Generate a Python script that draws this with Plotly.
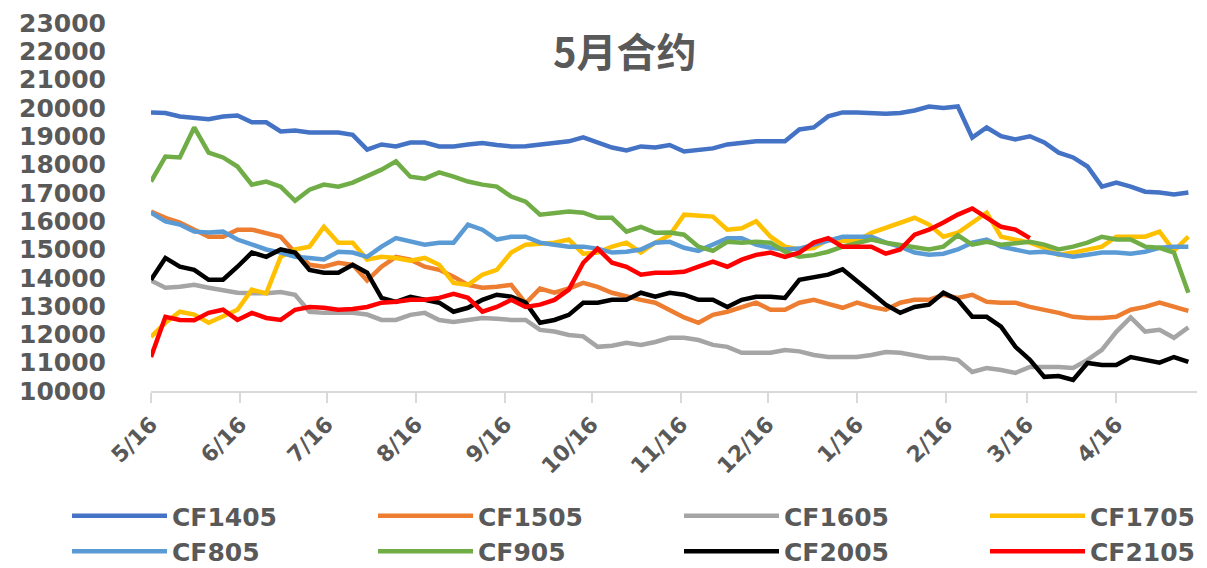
import pandas as pd
import plotly.graph_objects as go

# sample dates (every 5 days) on the month/day axis
dates = pd.date_range("2018-05-16", periods=73, freq="5D")

tick_dates = ["2018-05-16", "2018-06-16", "2018-07-16", "2018-08-16", "2018-09-16",
              "2018-10-16", "2018-11-16", "2018-12-16", "2019-01-16", "2019-02-16",
              "2019-03-16", "2019-04-16"]
tick_labels = ["5/16", "6/16", "7/16", "8/16", "9/16", "10/16", "11/16", "12/16",
               "1/16", "2/16", "3/16", "4/16"]

CF1405 = [19840, 19820, 19700, 19630, 19600, 19700, 19730, 19490, 19490, 19170,
          19200, 19130, 19130, 19130, 19050, 18530, 18710, 18640, 18780, 18780,
          18640, 18640, 18710, 18760, 18690, 18640, 18650, 18700, 18740, 18820,
          18960, 18780, 18600, 18500, 18640, 18600, 18690, 18460, 18530, 18570,
          18710, 18780, 18820, 18820, 18820, 19240, 19310, 19700, 19840, 19840,
          19820, 19790, 19820, 19910, 20050, 20000, 20050, 18950, 19310, 19000,
          18890, 19000, 18780, 18420, 18250, 17930, 17220, 17360, 17220, 17040,
          17010, 16940, 17010]
CF1505 = [16340, 16120, 15950, 15700, 15450, 15450, 15700, 15700, 15590, 15450,
          14890, 14460, 14390, 14530, 14460, 13900, 14390, 14740, 14640, 14390,
          14280, 14040, 13750, 13650, 13680, 13750, 13100, 13620, 13470, 13620,
          13820, 13680, 13470, 13330, 13220, 13120, 12870, 12600, 12410, 12690,
          12800, 12970, 13120, 12870, 12870, 13120, 13220, 13080, 12940, 13120,
          12970, 12870, 13120, 13220, 13220, 13400, 13290, 13400, 13150, 13120,
          13120, 12970, 12870, 12760, 12620, 12580, 12580, 12620, 12870, 12970,
          13120, 12970, 12830]
CF1605 = [13900, 13650, 13680, 13750, 13650, 13580, 13470, 13450, 13450, 13500,
          13400, 12800, 12760, 12760, 12760, 12700, 12510, 12510, 12690, 12760,
          12510, 12440, 12510, 12580, 12550, 12510, 12510, 12160, 12100, 11980,
          11930, 11560, 11600, 11700, 11630, 11730, 11880, 11880, 11800, 11630,
          11560, 11350, 11350, 11350, 11450, 11400, 11270, 11200, 11200, 11200,
          11270, 11380, 11350, 11270, 11170, 11170, 11100, 10670, 10810, 10740,
          10640, 10850, 10850, 10850, 10810, 11100, 11450, 12090, 12600, 12100,
          12160, 11880, 12250]
CF1705 = [11910, 12410, 12800, 12700, 12410, 12620, 12870, 13580, 13450, 14740,
          15000, 15100, 15800, 15240, 15240, 14640, 14740, 14700, 14600, 14700,
          14460, 13820, 13750, 14110, 14280, 14890, 15170, 15200, 15240, 15350,
          14850, 14890, 15100, 15240, 14890, 15240, 15500, 16230, 16200, 16160,
          15700, 15750, 16000, 15450, 15100, 15000, 15050, 15350, 15300, 15300,
          15590, 15770, 15950, 16120, 15880, 15450, 15590, 15950, 16300, 15450,
          15350, 15240, 15060, 14810, 14890, 15000, 15100, 15450, 15450, 15450,
          15630, 14950, 15450]
CF805 = [16300, 15990, 15880, 15630, 15600, 15630, 15350, 15170, 15000, 14890,
         14740, 14700, 14650, 14920, 14890, 14740, 15100, 15400, 15270, 15170,
         15240, 15240, 15880, 15700, 15350, 15450, 15450, 15240, 15170, 15100,
         15100, 15030, 14890, 14920, 15000, 15240, 15270, 15060, 14950, 15170,
         15400, 15400, 15170, 15060, 15000, 15030, 15170, 15350, 15450, 15450,
         15450, 15240, 15100, 14890, 14810, 14850, 15000, 15240, 15350, 15100,
         15000, 14890, 14920, 14810, 14740, 14810, 14890, 14890, 14850, 14920,
         15060, 15100, 15100]
CF905 = [17400, 18280, 18250, 19310, 18420, 18250, 17930, 17290, 17400, 17220,
         16720, 17110, 17290, 17220, 17360, 17570, 17820, 18110, 17570, 17500,
         17720, 17570, 17400, 17290, 17220, 16870, 16690, 16230, 16300, 16340,
         16300, 16120, 16120, 15630, 15800, 15590, 15600, 15520, 15100, 14950,
         15270, 15240, 15270, 15240, 14920, 14740, 14800, 14920, 15100, 15240,
         15350, 15240, 15170, 15100, 15000, 15100, 15500, 15170, 15270, 15170,
         15240, 15270, 15170, 15000, 15100, 15240, 15450, 15350, 15350, 15100,
         15060, 14890, 13470]
CF2005 = [13930, 14700, 14390, 14280, 13930, 13930, 14390, 14890, 14740, 15000,
          14890, 14280, 14180, 14180, 14460, 14180, 13290, 13150, 13330, 13220,
          13120, 12800, 12940, 13220, 13400, 13330, 13120, 12410, 12510, 12690,
          13120, 13120, 13220, 13220, 13470, 13330, 13470, 13400, 13220, 13220,
          12970, 13220, 13330, 13330, 13290, 13930, 14000, 14110, 14300, 13860,
          13470, 13050, 12760, 12970, 13050, 13470, 13220, 12620, 12620, 12270,
          11560, 11100, 10500, 10530, 10390, 10990, 10920, 10920, 11200, 11100,
          11000, 11200, 11030]
CF2105 = [11200, 12620, 12510, 12500, 12760, 12870, 12510, 12760, 12580, 12510,
          12870, 12970, 12940, 12870, 12900, 12970, 13120, 13150, 13220, 13220,
          13290, 13430, 13290, 12800, 12970, 13220, 12970, 13050, 13220, 13580,
          14530, 15030, 14530, 14390, 14110, 14180, 14180, 14210, 14390, 14570,
          14390, 14640, 14810, 14890, 14740, 14890, 15240, 15400, 15100, 15100,
          15100, 14850, 15000, 15520, 15700, 15950, 16230, 16450, 16120, 15800,
          15700, 15400]

# (name, values, colour, legend column)
series = [
    ("CF1405", CF1405, "#4472C4", "legend"),
    ("CF1505", CF1505, "#ED7D31", "legend2"),
    ("CF1605", CF1605, "#A5A5A5", "legend3"),
    ("CF1705", CF1705, "#FFC000", "legend4"),
    ("CF805", CF805, "#5B9BD5", "legend"),
    ("CF905", CF905, "#70AD47", "legend2"),
    ("CF2005", CF2005, "#000000", "legend3"),
    ("CF2105", CF2105, "#FF0000", "legend4"),
]

fig = go.Figure()
for name, vals, color, lg in series:
    fig.add_trace(go.Scatter(
        x=dates[:len(vals)], y=vals, name=name, mode="lines",
        line=dict(color=color, width=4.5), legend=lg,
    ))

gray = "#595959"
# the page body adds an 8px offset; the figure is laid out to compensate
W, H = 1199, 560
ML, MR, MT = 143, 10, 15
plot_w = W - ML - MR          # 1046
plot_top = MT
plot_bot = 383
MB = H - plot_bot
plot_h = plot_bot - plot_top  # 368


def legend_cfg(fig_x):
    return dict(
        orientation="v", x=(fig_x - ML) / plot_w, xanchor="left",
        y=-(485 - plot_bot) / plot_h, yanchor="top",
        itemwidth=95, tracegroupgap=0,
        font=dict(family="DejaVu Sans", size=25, color=gray, weight="bold"),
        bgcolor="rgba(0,0,0,0)",
    )


fig.update_layout(
    width=W, height=H,
    margin=dict(l=ML, r=MR, t=MT, b=MB, autoexpand=False),
    paper_bgcolor="white", plot_bgcolor="white",
    showlegend=True,
    font=dict(family="DejaVu Sans", color=gray),
    legend=legend_cfg(59),
    legend2=legend_cfg(365),
    legend3=legend_cfg(671),
    legend4=legend_cfg(977),
    annotations=[dict(
        text="5月合约", xref="paper", yref="paper",
        x=(617 - ML) / plot_w, y=(plot_bot - 42) / plot_h,
        xanchor="center", yanchor="middle", showarrow=False,
        font=dict(family="Noto Sans CJK SC", size=40, color=gray, weight="bold"),
    )],
)
fig.update_xaxes(
    type="date", range=["2018-05-16", "2019-05-14"],
    tickvals=tick_dates, ticktext=tick_labels, tickangle=-45,
    showgrid=False, showline=True, linecolor="#D9D9D9", linewidth=1.5,
    ticks="outside", ticklen=10, tickcolor="#D9D9D9", tickwidth=1.5,
    tickfont=dict(family="DejaVu Sans", size=22, color=gray, weight="bold"),
    zeroline=False,
)
fig.update_yaxes(
    range=[10000, 23000], dtick=1000, tick0=10000, tickformat="d",
    showgrid=False, showline=False, zeroline=False, ticks="",
    ticklabelstandoff=44,
    tickfont=dict(family="DejaVu Sans", size=25, color=gray, weight="bold"),
)

fig.write_html("out.html")
